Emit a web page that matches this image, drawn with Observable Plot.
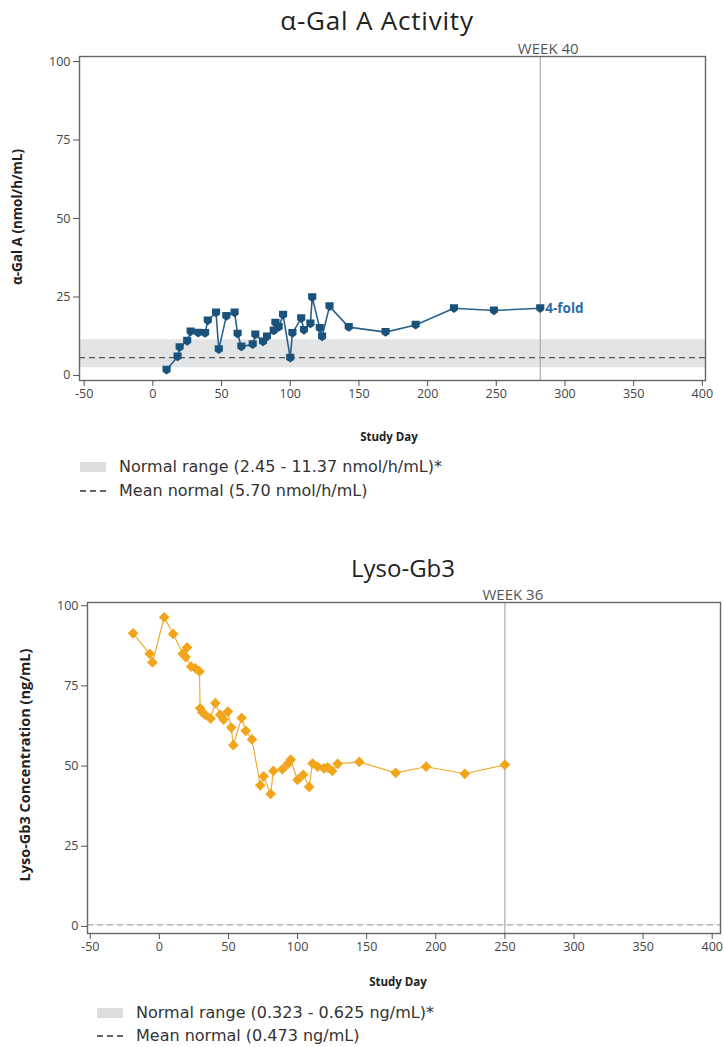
<!DOCTYPE html>
<html>
<head>
<meta charset="utf-8">
<script src="https://cdn.jsdelivr.net/npm/d3@7"></script>
<script src="https://cdn.jsdelivr.net/npm/@observablehq/plot@0.6"></script>
<style>
  body { margin: 0; background: white; }
  #root { position: relative; width: 724px; height: 1047px; overflow: hidden; font-family: "Open Sans", sans-serif; }
  .title { position: absolute; font-size: 24px; color: #222; transform: translate(-50%, -50%); white-space: nowrap; z-index: 2; line-height: 1; }
  .chart { position: absolute; left: 0; z-index: 1; }
  .lbl { position: absolute; font-size: 11.5px; font-weight: bold; color: #222; white-space: nowrap; z-index: 2; line-height: 1; }
  .xl { transform: translate(-50%, -50%); }
  .yl { transform: translate(-50%, -50%) rotate(-90deg); }
  .leg { position: absolute; font-family: "DejaVu Sans", sans-serif; font-size: 16px; color: #333; white-space: nowrap; display: flex; align-items: center; z-index: 2; line-height: 1; }
  .sw { display: inline-block; width: 26px; height: 10px; background: #dcdddf; margin-right: 13px; }
  .dash { display: inline-block; width: 26px; height: 0; border-top: 2px dashed #666; margin-right: 13px; }
</style>
</head>
<body>
<div id="root">
  <div class="title" style="left:377px; top:20px; font-size:26px; letter-spacing:0.8px;">α-Gal A Activity</div>
  <div class="chart" id="c1" style="top:30px;"></div>
  <div class="lbl yl" style="left:18px; top:217px; font-size:13.5px;">α-Gal A (nmol/h/mL)</div>
  <div class="lbl xl" style="left:389px; top:437px;">Study Day</div>
  <div class="leg" style="left:80px; top:459px;"><span class="sw"></span>Normal range (2.45 - 11.37 nmol/h/mL)*</div>
  <div class="leg" style="left:80px; top:483px;"><span class="dash"></span>Mean normal (5.70 nmol/h/mL)</div>

  <div class="title" style="left:403px; top:568px;">Lyso-Gb3</div>
  <div class="chart" id="c2" style="top:578px;"></div>
  <div class="lbl yl" style="left:25px; top:765px; font-size:14.5px;">Lyso-Gb3 Concentration (ng/mL)</div>
  <div class="lbl xl" style="left:398px; top:982px;">Study Day</div>
  <div class="leg" style="left:97px; top:1005px;"><span class="sw"></span>Normal range (0.323 - 0.625 ng/mL)*</div>
  <div class="leg" style="left:97px; top:1028px;"><span class="dash"></span>Mean normal (0.473 ng/mL)</div>
</div>
<script>
// ---- Data ----
const xTicks = [-50, 0, 50, 100, 150, 200, 250, 300, 350, 400];
const yTicks = [0, 25, 50, 75, 100];

const galDay = [10, 18, 19.5, 25, 27.5, 33, 38, 40, 46, 48, 53.5, 59.5, 61.7, 64.4, 72.7, 74.6, 80.2, 83.1, 88, 89.2, 91.6, 94.8, 100, 101.6, 108, 110, 114.7, 116, 121.5, 123.2, 128.6, 142.6, 169.4, 191.3, 219.2, 248.3, 282];
const galValue = [1.8, 6, 9, 11, 14, 13.6, 13.5, 17.5, 20, 8.3, 18.9, 20, 13.3, 9.2, 9.9, 13, 10.8, 12.4, 14.3, 16.8, 15.4, 19.3, 5.6, 13.5, 18.2, 14.5, 16.5, 24.9, 15.1, 12.4, 22, 15.4, 13.8, 16.1, 21.4, 20.7, 21.4];
const galRange = [2.45, 11.37];
const galMean = 5.70;
const galWeek = 282;
const galWeekLabel = "WEEK 40";
const galFoldLabel = "4-fold";

const lysoDay = [-19, -7, -5, 3.5, 10, 17, 20, 19, 23, 26, 29, 29.5, 31, 33, 37, 40.5, 44, 46.5, 49.5, 52, 53.5, 59.5, 62.5, 67, 73, 75.5, 80.5, 82.5, 89, 93, 95, 100, 104, 108.4, 110.8, 114.5, 119, 121.7, 125, 129, 144.6, 171, 193, 221, 250];
const lysoValue = [91.4, 85, 82.3, 96.4, 91.2, 85, 87, 84, 81, 80.5, 79.5, 68, 66.8, 66, 64.8, 69.6, 66, 64.5, 67, 62, 56.5, 65, 61, 58.3, 44, 46.8, 41.3, 48.5, 49, 50.7, 52, 45.7, 47.3, 43.5, 50.8, 49.8, 49.3, 49.6, 48.5, 50.7, 51.3, 47.9, 49.8, 47.6, 50.4];
const lysoRange = [0.323, 0.625];
const lysoMean = 0.473;
const lysoWeek = 250;
const lysoWeekLabel = "WEEK 36";

// ---- Symbols ----
const shield = {
  draw(ctx, size) {
    const w = Math.sqrt(size) / 2;
    ctx.moveTo(-w, -w);
    ctx.lineTo(w, -w);
    ctx.lineTo(w, w * 0.45);
    ctx.lineTo(0, w * 1.15);
    ctx.lineTo(-w, w * 0.45);
    ctx.closePath();
  }
};
const diamond = {
  draw(ctx, size) {
    const h = Math.sqrt(size) * 0.72;
    ctx.moveTo(0, -h);
    ctx.lineTo(h, 0);
    ctx.lineTo(0, h);
    ctx.lineTo(-h, 0);
    ctx.closePath();
  }
};

function makeChart(cfg) {
  const data = cfg.days.map((d, i) => ({day: d, value: cfg.values[i]}));
  const band = [{lo: cfg.range[0], hi: cfg.range[1]}];
  const fmt = d => String(d);
  return Plot.plot({
    width: 724,
    height: cfg.height,
    marginTop: cfg.marginTop,
    marginLeft: cfg.marginLeft,
    marginRight: cfg.marginRight,
    marginBottom: cfg.marginBottom,
    x: {domain: cfg.xDomain},
    y: {domain: cfg.yDomain},
    style: {fontFamily: "Open Sans, sans-serif", fontSize: "12.5px", color: "#444", background: "transparent", overflow: "visible"},
    marks: [
      Plot.rect(band, {y1: "lo", y2: "hi", fill: "#e3e4e6"}),
      Plot.ruleY([cfg.mean], {stroke: cfg.meanColor, strokeWidth: 1.2, strokeDasharray: "6,4"}),
      Plot.ruleX([cfg.week], {stroke: "#aaa", strokeWidth: 1.2}),
      Plot.line(data, {x: "day", y: "value", stroke: cfg.lineColor, strokeWidth: cfg.lineWidth}),
      Plot.dot(data, {x: "day", y: "value", symbol: cfg.symbol, r: cfg.r, fill: cfg.color, stroke: "none"}),
      Plot.frame({stroke: "#666", strokeWidth: 1.4}),
      Plot.axisX({ticks: xTicks, tickSize: 6, tickPadding: 3, tickFormat: fmt, label: null, stroke: "#555"}),
      Plot.axisY({ticks: yTicks, tickSize: 6, tickPadding: 3, tickFormat: fmt, label: null, stroke: "#555"}),
      Plot.text([cfg.weekLabel], {x: cfg.week, frameAnchor: "top", lineAnchor: "bottom", textAnchor: "middle", dy: -3, dx: 8, text: d => d, fill: "#555", fontSize: 15}),
      ...(cfg.extra || [])
    ]
  });
}

const c1 = makeChart({
  days: galDay, values: galValue, range: galRange, mean: galMean, week: galWeek, weekLabel: galWeekLabel,
  height: 415, marginTop: 26, marginLeft: 79, marginRight: 19, marginBottom: 65,
  xDomain: [-53.4, 402.3], yDomain: [-1.6, 101.6],
  color: "#1b527c", lineColor: "#2a628c", lineWidth: 1.6, symbol: shield, r: 4.6, meanColor: "#555",
  extra: [
    Plot.text([{day: galDay[galDay.length - 1], value: galValue[galValue.length - 1], t: galFoldLabel}],
      {x: "day", y: "value", text: "t", dx: 5, textAnchor: "start", fill: "#2b6ca3", fontSize: 13.5, fontWeight: "bold"})
  ]
});
document.getElementById("c1").appendChild(c1);

const c2 = makeChart({
  days: lysoDay, values: lysoValue, range: lysoRange, mean: lysoMean, week: lysoWeek, weekLabel: lysoWeekLabel,
  height: 415, marginTop: 24, marginLeft: 87, marginRight: 4, marginBottom: 60,
  xDomain: [-52, 406], yDomain: [-2.2, 101],
  color: "#f2a51a", lineColor: "#f0ac30", lineWidth: 1.2, symbol: diamond, r: 4.2, meanColor: "#aaa"
});
document.getElementById("c2").appendChild(c2);
</script>
</body>
</html>
